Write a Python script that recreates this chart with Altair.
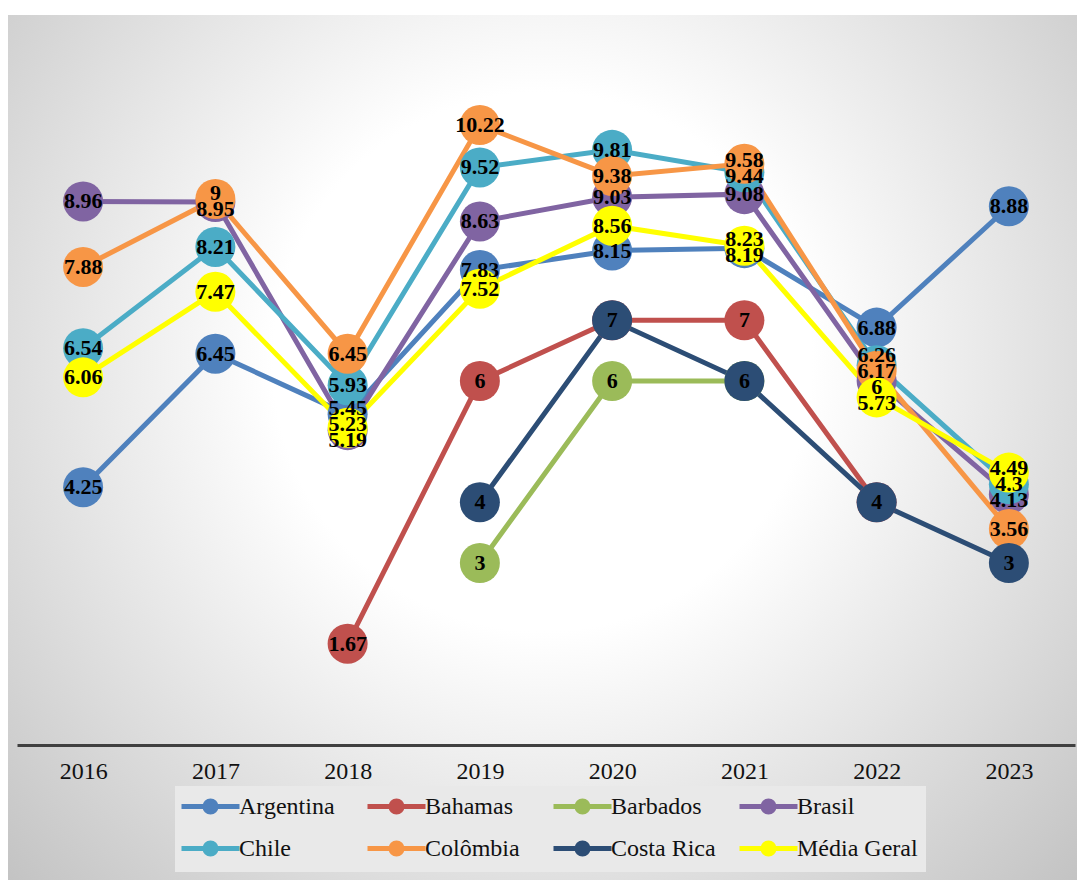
import altair as alt
import pandas as pd

years = ["2016", "2017", "2018", "2019", "2020", "2021", "2022", "2023"]
series = ["Argentina", "Bahamas", "Barbados", "Brasil", "Chile", "Colômbia", "Costa Rica", "Média Geral"]
colors = ["#4F81BD", "#C0504D", "#9BBB59", "#8064A2", "#4BACC6", "#F79646", "#2C4D75", "#FFFF00"]

argentina = [4.25, 6.45, 5.45, 7.83, 8.15, 8.19, 6.88, 8.88]
bahamas = [None, None, 1.67, 6, 7, 7, 4, None]
barbados = [None, None, None, 3, 6, 6, None, None]
brasil = [8.96, 8.95, 5.19, 8.63, 9.03, 9.08, 6, 4.13]
chile = [6.54, 8.21, 5.93, 9.52, 9.81, 9.44, 6.26, 4.3]
colombia = [7.88, 9, 6.45, 10.22, 9.38, 9.58, 6.17, 3.56]
costa_rica = [None, None, None, 4, 7, 6, 4, 3]
media_geral = [6.06, 7.47, 5.23, 7.52, 8.56, 8.23, 5.73, 4.49]

all_values = [argentina, bahamas, barbados, brasil, chile, colombia, costa_rica, media_geral]

Y_MAX = 12
W, H = 1058, 728

rows = []
for s, vals in zip(series, all_values):
    for yr, v in zip(years, vals):
        if v is not None:
            rows.append({"ano": yr, "serie": s, "valor": v, "rotulo": f"{v:g}"})
df = pd.DataFrame(rows)

# label de-overlap (in data units) similar to the spreadsheet's label placement
gap = 16 * Y_MAX / H
lab = df.drop_duplicates(["ano", "valor"]).copy()
lab["pos"] = lab["valor"].astype(float)


def positions(cl):
    c = sum(v for _, v in cl) / len(cl)
    n = len(cl)
    return [c + gap * ((n - 1) / 2 - k) for k in range(n)]


for yr, g in lab.groupby("ano"):
    g = g.sort_values("valor", ascending=False)
    clusters = [[(i, v)] for i, v in zip(g.index, g["valor"])]
    merged = True
    while merged:
        merged = False
        for k in range(len(clusters) - 1):
            a = positions(clusters[k])
            b = positions(clusters[k + 1])
            if a[-1] - b[0] < gap - 1e-9:
                clusters[k] = clusters[k] + clusters[k + 1]
                del clusters[k + 1]
                merged = True
                break
    for cl in clusters:
        for (i, _), p in zip(cl, positions(cl)):
            lab.loc[i, "pos"] = p

xenc = alt.X("ano:O", sort=years, scale=alt.Scale(domain=years),
             axis=alt.Axis(title=None, labelAngle=0, ticks=False, grid=False, zindex=5,
                           labelFont="Liberation Serif", labelFontSize=24,
                           labelColor="#111111", labelPadding=14,
                           domainColor="#404040", domainWidth=3))
yscale = alt.Scale(domain=[0, Y_MAX], nice=False, zero=True)
cscale = alt.Scale(domain=series, range=colors)

sym_path = "M-2.9,0L2.9,0M0.55,0A0.55,0.55,0,1,1,-0.55,0A0.55,0.55,0,1,1,0.55,0Z"
legend = alt.Legend(title=None, orient="none", legendX=158, legendY=769,
                    direction="horizontal", columns=4, gridAlign="all",
                    columnPadding=-3, rowPadding=11,
                    symbolType=sym_path, symbolSize=400, symbolStrokeWidth=5,
                    symbolOffset=15, labelOffset=16,
                    labelFont="Liberation Serif", labelFontSize=24, labelColor="#111111",
                    fillColor="#e9e9e9", padding=8, labelLimit=300, zindex=5)

bg = alt.Chart(pd.DataFrame({"a": [0]})).mark_rect(
    color={"gradient": "radial",
           "stops": [{"offset": 0, "color": "#ffffff"},
                     {"offset": 0.35, "color": "#ffffff"},
                     {"offset": 1, "color": "#c0c0c0"}],
           "x1": 0.5, "y1": 0.42, "x2": 0.5, "y2": 0.42, "r1": 0, "r2": 0.72}
).encode(x=alt.value(-9), x2=alt.value(1060), y=alt.value(-2), y2=alt.value(863))

base = alt.Chart(df)
lines = base.mark_line(strokeWidth=5).encode(
    x=xenc, y=alt.Y("valor:Q", scale=yscale, axis=None),
    color=alt.Color("serie:N", scale=cscale, legend=legend, sort=series),
    detail="serie:N",
)
points = base.mark_circle(size=1600, opacity=1).encode(
    x=xenc, y=alt.Y("valor:Q", scale=yscale, axis=None),
    color=alt.Color("serie:N", scale=cscale, legend=legend, sort=series),
)
texts = alt.Chart(lab).mark_text(font="Liberation Serif", fontWeight="bold", fontSize=22,
                                 color="black", baseline="middle", align="center").encode(
    x=xenc, y=alt.Y("pos:Q", scale=yscale, axis=None), text="rotulo:N")

chart = alt.layer(bg, lines, points, texts).properties(
    width=W, height=H,
    padding={"left": 17, "top": 17, "right": 2, "bottom": 135},
    autosize=alt.AutoSizeParams(type="none"),
).configure_view(stroke=None)

chart.save("out.html", embed_options={"renderer": "svg", "actions": False})
